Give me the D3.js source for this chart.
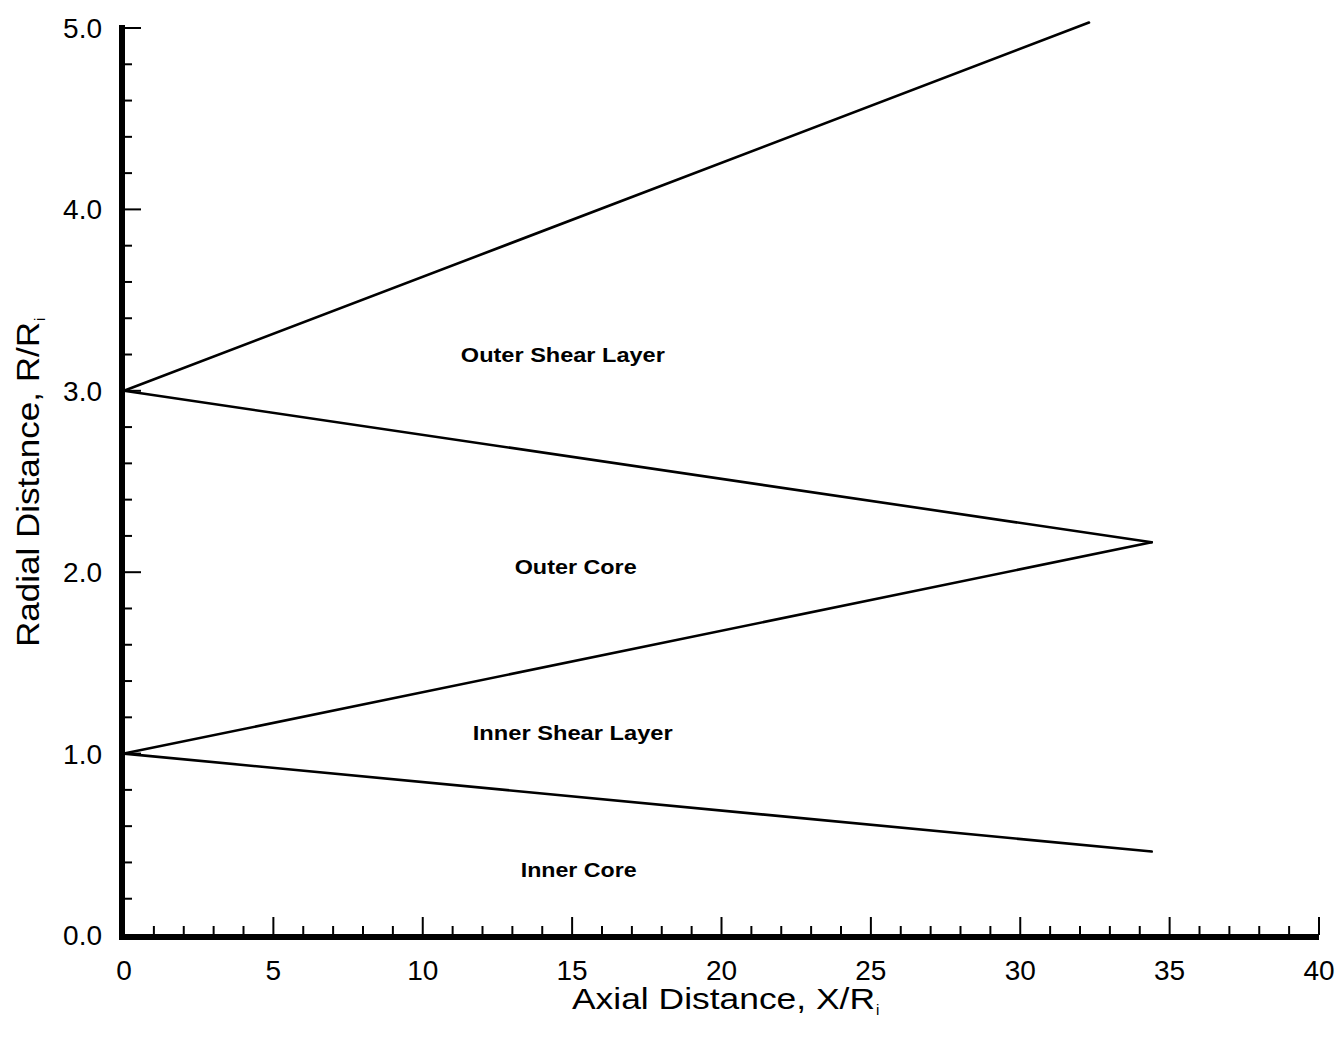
<!DOCTYPE html>
<html><head><meta charset="utf-8">
<script src="https://cdn.jsdelivr.net/npm/d3@7"></script>
<style>body{margin:0;background:#fff}svg{display:block}text{font-family:"Liberation Sans",Arial,Helvetica,sans-serif;fill:#000}</style>
</head><body>
<script>
// Data
const boundaryNames = ["Outer jet edge", "Outer core edge", "Inner core upper edge", "Inner core edge"];
const boundaryX0 = [0, 0, 0, 0];
const boundaryY0 = [3.0, 3.0, 1.0, 1.0];
const boundaryX1 = [32.3, 34.4, 34.4, 34.4];
const boundaryY1 = [5.03, 2.165, 2.165, 0.46];
const regionLabels = ["Outer Shear Layer", "Outer Core", "Inner Shear Layer", "Inner Core"];
const regionX = [14.69, 15.12, 15.02, 15.22];
const regionY = [3.16, 1.99, 1.075, 0.32];
const regionLen = [204, 122, 200, 116];
const xTicks = [0, 5, 10, 15, 20, 25, 30, 35, 40];
const yTicks = [0, 1, 2, 3, 4, 5];

const W = 1343, H = 1038;
const svg = d3.select("body").append("svg").attr("width", W).attr("height", H);
const x = d3.scaleLinear().domain([0, 40]).range([124, 1319]);
const y = d3.scaleLinear().domain([0, 5]).range([935, 28]);

// minor/major ticks (inward)
const g = svg.append("g");
d3.range(0, 41, 1).forEach(v => {
  const major = v % 5 === 0;
  g.append("line").attr("x1", x(v)).attr("x2", x(v))
    .attr("y1", y(0)).attr("y2", y(0) - (major ? 18 : 9))
    .attr("stroke", "#000").attr("stroke-width", 2);
});
d3.range(0, 26, 1).forEach(i => {
  const v = i / 5;
  const major = i % 5 === 0;
  g.append("line").attr("x1", x(0)).attr("x2", x(0) + (major ? 17 : 8))
    .attr("y1", y(v)).attr("y2", y(v))
    .attr("stroke", "#000").attr("stroke-width", 2);
});
// axis lines
g.append("line").attr("x1", x(0) - 4).attr("x2", x(40)).attr("y1", y(0) + 2).attr("y2", y(0) + 2)
  .attr("stroke", "#000").attr("stroke-width", 6);
g.append("line").attr("x1", x(0) - 2).attr("x2", x(0) - 2).attr("y1", y(0) + 5).attr("y2", y(5) - 3)
  .attr("stroke", "#000").attr("stroke-width", 6);

// tick labels
svg.append("g").selectAll("text").data(xTicks).join("text")
  .attr("x", d => x(d)).attr("y", 980).attr("text-anchor", "middle")
  .attr("font-size", 28).text(d => d);
svg.append("g").selectAll("text").data(yTicks).join("text")
  .attr("x", 102).attr("y", d => y(d) + 10).attr("text-anchor", "end")
  .attr("font-size", 28).text(d => d.toFixed(1));

// boundary lines
svg.append("g").selectAll("line").data(boundaryNames).join("line")
  .attr("x1", (d, i) => x(boundaryX0[i])).attr("y1", (d, i) => y(boundaryY0[i]))
  .attr("x2", (d, i) => x(boundaryX1[i])).attr("y2", (d, i) => y(boundaryY1[i]))
  .attr("stroke", "#000").attr("stroke-width", 2.6).attr("stroke-linecap", "round");

// region labels
svg.append("g").selectAll("text").data(regionLabels).join("text")
  .attr("x", (d, i) => x(regionX[i]) - regionLen[i] / 2).attr("y", (d, i) => y(regionY[i]))
  .attr("font-size", 21).attr("font-weight", "bold")
  .attr("textLength", (d, i) => regionLen[i]).attr("lengthAdjust", "spacingAndGlyphs")
  .text(d => d);

// axis titles
const xt = svg.append("text").attr("x", 572).attr("y", 1009).attr("font-size", 29);
xt.append("tspan").attr("textLength", 303).attr("lengthAdjust", "spacingAndGlyphs").text("Axial Distance, X/R");
xt.append("tspan").attr("font-size", 15).attr("dx", 1).attr("dy", 6).text("i");
const yt = svg.append("text").attr("transform", "translate(39,647) rotate(-90)").attr("font-size", 31);
yt.append("tspan").attr("textLength", 325).attr("lengthAdjust", "spacingAndGlyphs").text("Radial Distance, R/R");
yt.append("tspan").attr("font-size", 15).attr("dx", 1).attr("dy", 6).text("i");
</script>
</body></html>
